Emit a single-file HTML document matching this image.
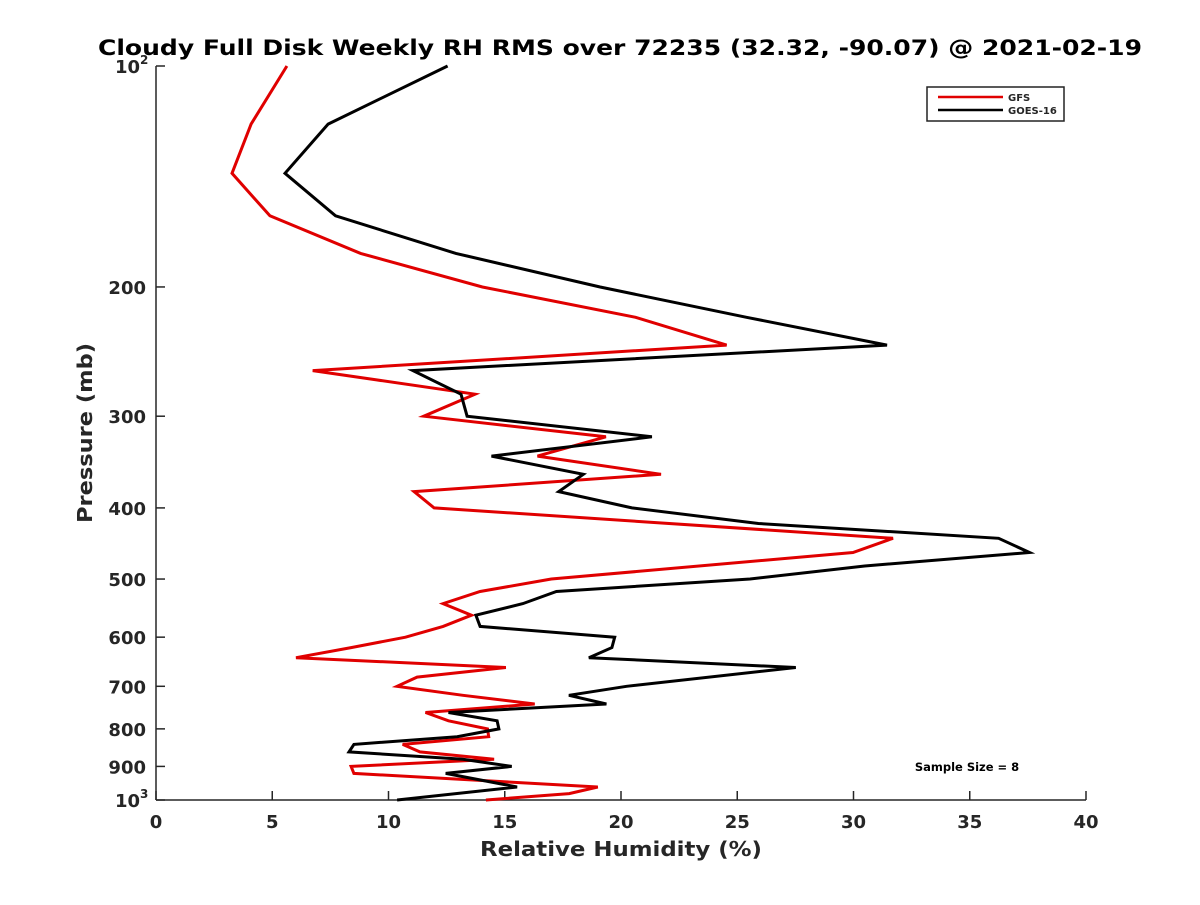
<!DOCTYPE html>
<html><head><meta charset="utf-8"><style>
body{margin:0;background:#fff;}
svg text{font-family:"DejaVu Sans","Liberation Sans",sans-serif;font-weight:bold;fill:#262626;}
</style></head><body>
<svg id="chart" width="1200" height="900" xmlns="http://www.w3.org/2000/svg">
<rect width="1200" height="900" fill="#fff"/>
<text x="620" y="55" font-size="21" text-anchor="middle" textLength="1044" lengthAdjust="spacingAndGlyphs" style="fill:#000">Cloudy Full Disk Weekly RH RMS over 72235 (32.32, -90.07) @ 2021-02-19</text>
<g id="axes"></g>
<g id="series"></g>
<g>
<rect x="927" y="87" width="137" height="34" fill="#fff" stroke="#222" stroke-width="1.5"/>
<line x1="938" y1="97" x2="1003" y2="97" stroke="#e00000" stroke-width="2.5"/>
<text x="1008" y="101" font-size="10">GFS</text>
<line x1="938" y1="110" x2="1003" y2="110" stroke="#000" stroke-width="2.5"/>
<text x="1008" y="114" font-size="10">GOES-16</text>
</g>
<text x="967" y="771" font-size="11.5" text-anchor="middle" style="fill:#000">Sample Size = 8</text>
<text x="621" y="856" font-size="20" text-anchor="middle" textLength="282" lengthAdjust="spacingAndGlyphs">Relative Humidity (%)</text>
<text transform="translate(92,433) rotate(-90)" font-size="20" text-anchor="middle" textLength="180" lengthAdjust="spacingAndGlyphs">Pressure (mb)</text>
</svg>
<script>
const xTicks = [0,5,10,15,20,25,30,35,40];
const yTicks = [100,200,300,400,500,600,700,800,900,1000];
const yTickLabels = ["10","200","300","400","500","600","700","800","900","10"];
const yTickExps = ["2","","","","","","","","","3"];
const gfsLevels = [100,120,140,160,180,200,220,240,260,280,300,320,340,360,380,400,440,460,500,520,540,560,580,600,620,640,660,680,700,720,740,760,780,800,820,840,860,880,900,920,960,980,1000];
const gfsRH = [5.63,4.09,3.27,4.90,8.80,14.04,20.63,24.54,6.74,13.72,11.52,19.35,16.41,21.72,11.10,11.96,31.7,29.98,17.0,13.94,12.35,13.57,12.35,10.73,8.39,6.02,15.05,11.23,10.37,13.20,16.29,11.59,12.58,14.26,14.31,10.61,11.35,14.54,8.39,8.51,19.0,17.77,14.19];
const goesLevels = [100,120,140,160,180,200,220,240,260,280,300,320,340,360,380,400,420,440,460,480,500,520,540,560,580,600,620,640,660,700,720,740,760,780,800,820,840,860,880,900,920,960,1000];
const goesRH = [12.54,7.40,5.55,7.72,12.90,19.10,25.4,31.44,11.05,13.12,13.38,21.33,14.43,18.38,17.32,20.47,25.91,36.24,37.57,30.48,25.55,17.22,15.78,13.76,13.94,19.73,19.61,18.62,27.52,20.24,17.76,19.37,12.58,14.67,14.75,12.95,8.51,8.30,13.2,15.30,12.46,15.53,10.37];

const X0=156,X1=1086,Y0=66,Y1=800;
const xs=v=>X0+(v-0)/40*(X1-X0);
const ys=p=>Y0+Math.log10(p/100)*(Y1-Y0);
const NS="http://www.w3.org/2000/svg";
function mk(tag,attrs,parent){const e=document.createElementNS(NS,tag);for(const k in attrs)e.setAttribute(k,attrs[k]);parent.appendChild(e);return e;}
const axes=document.getElementById('axes');
const yAxis=mk('line',{x1:X0,y1:Y0,x2:X0,y2:Y1,stroke:'#262626','stroke-width':1.5},axes);


const xAxis=mk('line',{x1:X0,y1:Y1,x2:X1,y2:Y1,stroke:'#262626','stroke-width':1.5},axes);


xTicks.forEach(t=>{
  const x=xs(t);
  const tk=mk('line',{x1:x,y1:Y1,x2:x,y2:Y1-9,stroke:'#262626','stroke-width':1.5},axes);
  
  
  const lb=mk('text',{x:x,y:Y1+28,'font-size':18,'text-anchor':'middle'},axes);
  lb.textContent=t;
  
  
});
yTicks.forEach((t,i)=>{
  const y=ys(t);
  const tk=mk('line',{x1:X0,y1:y,x2:X0+9,y2:y,stroke:'#262626','stroke-width':1.5},axes);
  
  
  const hasExp=yTickExps[i]!=="";
  const lb=mk('text',{x:hasExp?X0-16:X0-10,y:y+7,'font-size':18,'text-anchor':'end'},axes);
  lb.textContent=yTickLabels[i];
  
  
  if(hasExp){
    const ex=mk('text',{x:X0-16,y:y-2,'font-size':12,'text-anchor':'start'},axes);
    ex.textContent=yTickExps[i];
    
    
  }
});
const series=document.getElementById('series');
function drawLine(lv,rh,color,name){
  const pts=lv.map((p,i)=>xs(rh[i]).toFixed(1)+','+ys(p).toFixed(1)).join(' ');
  const pl=mk('polyline',{points:pts,fill:'none',stroke:color,'stroke-width':3,'stroke-linejoin':'miter'},series);
  
  
}
drawLine(gfsLevels,gfsRH,'#e00000','gfs-line');
drawLine(goesLevels,goesRH,'#000','goes16-line');
</script>
</body></html>
